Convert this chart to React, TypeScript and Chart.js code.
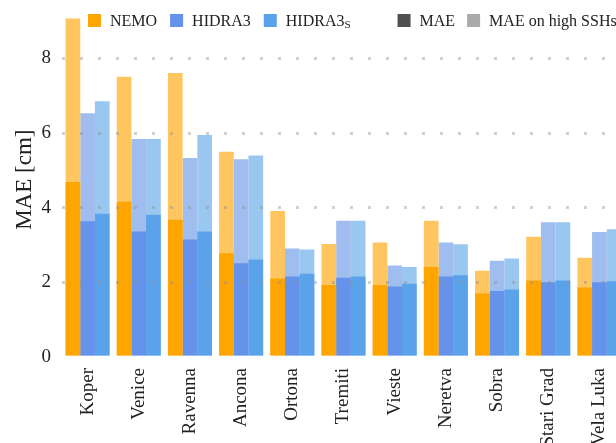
import { useEffect, useRef } from 'react';
import { Chart, registerables } from 'chart.js';

Chart.register(...registerables);

const stations = ['Koper', 'Venice', 'Ravenna', 'Ancona', 'Ortona', 'Tremiti', 'Vieste', 'Neretva', 'Sobra', 'Stari Grad', 'Vela Luka'];
const nemoMae = [4.69, 4.16, 3.68, 2.78, 2.10, 1.93, 1.93, 2.41, 1.70, 2.05, 1.86];
const nemoHigh = [9.07, 7.51, 7.61, 5.50, 3.91, 3.03, 3.07, 3.65, 2.31, 3.22, 2.66];
const hidraMae = [3.64, 3.36, 3.15, 2.51, 2.16, 2.12, 1.89, 2.16, 1.77, 2.00, 2.00];
const hidraHigh = [6.53, 5.84, 5.33, 5.30, 2.91, 3.65, 2.45, 3.07, 2.58, 3.61, 3.35];
const hidraSMae = [3.84, 3.81, 3.36, 2.61, 2.23, 2.16, 1.96, 2.19, 1.81, 2.05, 2.03];
const hidraSHigh = [6.85, 5.84, 5.95, 5.40, 2.88, 3.65, 2.41, 3.02, 2.64, 3.61, 3.42];
const yTicks = [0, 2, 4, 6, 8];

const FONT = "'Liberation Serif', 'Times New Roman', serif";
const TEXT = '#222';

const C_NEMO = '#FFA500';
const C_NEMO_L = '#FFC55E';
const C_H3 = '#6592EA';
const C_H3_L = '#A0BDEF';
const C_H3S = '#5AA3EA';
const C_H3S_L = '#9AC7F0';

const legendPlugin = {
  id: 'customLegend',
  afterDraw(chart: any) {
    const ctx = chart.ctx as CanvasRenderingContext2D;
    ctx.save();
    const yOff = 20; // canvas is shifted up by 20px
    const sq = 13;
    const top = 14 + yOff;
    const mid = top + sq / 2 + 1;
    ctx.font = `16px ${FONT}`;
    ctx.textBaseline = 'middle';
    ctx.textAlign = 'left';
    let x = 88;
    const items: { c: string; t: string; sub?: string; gapAfter: number }[] = [
      { c: C_NEMO, t: 'NEMO', gapAfter: 13 },
      { c: C_H3, t: 'HIDRA3', gapAfter: 13 },
      { c: C_H3S, t: 'HIDRA3', sub: 'S', gapAfter: 47 },
      { c: '#505050', t: 'MAE', gapAfter: 12 },
      { c: '#ABABAB', t: 'MAE on high SSHs', gapAfter: 0 },
    ];
    for (const it of items) {
      ctx.fillStyle = it.c;
      ctx.fillRect(x, top, sq, sq);
      x += sq + 9;
      ctx.fillStyle = TEXT;
      ctx.font = `16px ${FONT}`;
      ctx.fillText(it.t, x, mid);
      x += ctx.measureText(it.t).width;
      if (it.sub) {
        ctx.font = `11px ${FONT}`;
        ctx.fillText(it.sub, x, mid + 4);
        x += ctx.measureText(it.sub).width;
      }
      x += it.gapAfter;
    }
    ctx.restore();
  },
};

export default function App() {
  const ref = useRef<HTMLCanvasElement>(null);

  useEffect(() => {
    if (!ref.current) return;
    const mk = (label: string, data: number[], color: string, stack: string, order: number) => ({
      label,
      data,
      backgroundColor: color,
      borderWidth: 0,
      stack,
      order,
      barPercentage: 1.0,
      categoryPercentage: 0.86,
    });
    const chart = new Chart(ref.current, {
      type: 'bar',
      data: {
        labels: stations,
        datasets: [
          mk('NEMO', nemoMae, C_NEMO, 'nemo', 0),
          mk('HIDRA3', hidraMae, C_H3, 'h3', 0),
          mk('HIDRA3s', hidraSMae, C_H3S, 'h3s', 0),
          mk('NEMO high', nemoHigh, C_NEMO_L, 'nemo', 1),
          mk('HIDRA3 high', hidraHigh, C_H3_L, 'h3', 1),
          mk('HIDRA3s high', hidraSHigh, C_H3S_L, 'h3s', 1),
        ] as any,
      },
      options: {
        responsive: false,
        devicePixelRatio: 1,
        animation: false,
        layout: { padding: { top: 16, right: 5, left: 0, bottom: 0 } },
        plugins: {
          legend: { display: false },
          tooltip: { enabled: false },
        },
        scales: {
          x: {
            grid: { display: false },
            border: { display: false },
            ticks: {
              font: { family: FONT, size: 19 },
              color: TEXT,
              maxRotation: 90,
              minRotation: 90,
              padding: 3,
            },
            afterFit: (s: any) => {
              s.height = 86;
            },
          },
          y: {
            stacked: false,
            min: 0,
            max: 9.5,
            border: { display: false, dash: [3, 15], dashOffset: 0 },
            grid: {
              z: 1,
              drawTicks: false,
              lineWidth: 3,
              color: (c: any) => (c.tick && c.tick.value === 0 ? 'rgba(0,0,0,0)' : 'rgba(140,140,140,0.4)'),
            },
            ticks: {
              font: { family: FONT, size: 19 },
              color: TEXT,
              padding: 11,
              stepSize: 2,
              includeBounds: false,
            },
            afterBuildTicks: (s: any) => {
              s.ticks = yTicks.map((v) => ({ value: v }));
            },
            afterFit: (s: any) => {
              s.width = 62;
            },
            title: {
              display: true,
              text: 'MAE [cm]',
              color: TEXT,
              font: { family: FONT, size: 23 },
              padding: { top: 11, bottom: 0 },
            },
          },
        },
      } as any,
      plugins: [legendPlugin],
    });
    return () => chart.destroy();
  }, []);

  return (
    <div
      style={{
        position: 'fixed',
        left: 0,
        top: 0,
        width: 616,
        height: 443,
        overflow: 'hidden',
        background: '#fff',
      }}
    >
      <canvas
        ref={ref}
        width={630}
        height={463}
        style={{ position: 'absolute', left: 0, top: -20, width: 630, height: 463 }}
      />
    </div>
  );
}
